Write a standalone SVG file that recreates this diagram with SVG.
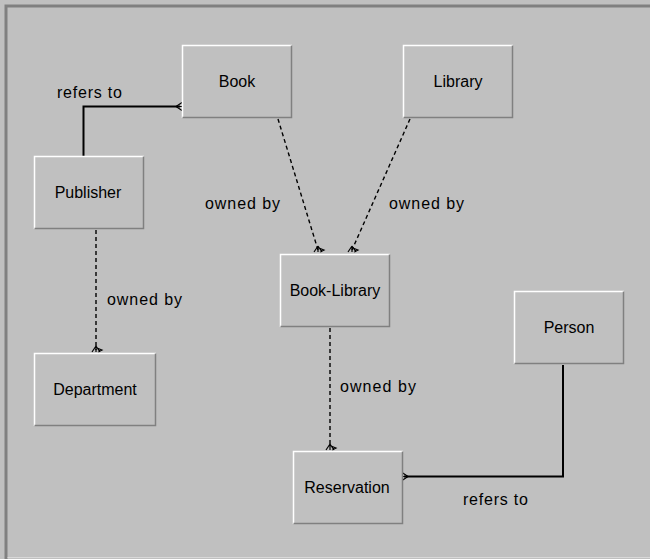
<svg xmlns="http://www.w3.org/2000/svg" width="650" height="559" viewBox="0 0 650 559">
<style>
.bg{fill:#c0c0c0}
.box{fill:#c0c0c0}
.hi{fill:none;stroke:#ffffff;stroke-width:1.5}
.sh{fill:none;stroke:#808080;stroke-width:1.5}
.t{font-family:"Liberation Sans",Arial,sans-serif;font-size:16px;fill:#000;text-anchor:middle}
.lbl{font-family:"Liberation Sans",Arial,sans-serif;font-size:16px;fill:#000}
.solid{fill:none;stroke:#000;stroke-width:2}
.dash{fill:none;stroke:#000;stroke-width:1.4;stroke-dasharray:4 3}
.foot{fill:none;stroke:#000;stroke-width:1.2}
</style>
<rect class="bg" x="0" y="0" width="650" height="559"/>
<path d="M6 559 V6 H650" fill="none" stroke="#808080" stroke-width="3"/>
<path d="M7.5 557.5 H650" fill="none" stroke="#d8d8d8" stroke-width="1"/>

<g id="connectors">
  <path class="solid" d="M83.5 156 V106.5 H180"/>
  <path class="foot" d="M176 106.5 L182 102.5 M176 106.5 L182 106.5 M176 106.5 L182 110.5"/>
  <text class="lbl" x="57" y="98" textLength="65" lengthAdjust="spacing">refers to</text>

  <path class="dash" d="M278 119 L318 250"/>
  <path class="foot" d="M318 246 L314 252 M318 246 L318 252 M318 246 L322 252 M319 248 L324 250 L320 252"/>
  <text class="lbl" x="205" y="209" textLength="75" lengthAdjust="spacing">owned by</text>

  <path class="dash" d="M410 119 L352 250"/>
  <path class="foot" d="M352 246 L348 252 M352 246 L352 252 M352 246 L356 252 M353 248 L358 250 L354 252"/>
  <text class="lbl" x="389" y="209" textLength="75" lengthAdjust="spacing">owned by</text>

  <path class="dash" d="M96 230 V350"/>
  <path class="foot" d="M96 346 L92 352 M96 346 L96 352 M96 346 L100 352 M97 348 L102 350 L98 352"/>
  <text class="lbl" x="107" y="305" textLength="75" lengthAdjust="spacing">owned by</text>

  <path class="dash" d="M330 328 V447"/>
  <path class="foot" d="M330 444 L326 450 M330 444 L330 450 M330 444 L334 450 M331 446 L336 448 L332 450"/>
  <text class="lbl" x="340" y="392" textLength="76" lengthAdjust="spacing">owned by</text>

  <path class="solid" d="M563 365 V476.5 H404"/>
  <path class="foot" d="M408 476.5 L402 472.5 M408 476.5 L402 476.5 M408 476.5 L402 480.5"/>
  <text class="lbl" x="463" y="505" textLength="65" lengthAdjust="spacing">refers to</text>
</g>

<g id="book">
  <rect class="box" x="182" y="45" width="110" height="73"/>
  <path class="hi" d="M182.5 118 V45.5 H292"/>
  <path class="sh" d="M182.5 117.5 H291.5 V45.5"/>
  <text class="t" x="237" y="87">Book</text>
</g>
<g id="library">
  <rect class="box" x="403" y="45" width="110" height="73"/>
  <path class="hi" d="M403.5 118 V45.5 H513"/>
  <path class="sh" d="M403.5 117.5 H512.5 V45.5"/>
  <text class="t" x="458" y="87">Library</text>
</g>
<g id="publisher">
  <rect class="box" x="34" y="156" width="110" height="73"/>
  <path class="hi" d="M34.5 229 V156.5 H144"/>
  <path class="sh" d="M34.5 228.5 H143.5 V156.5"/>
  <text class="t" x="88" y="198">Publisher</text>
</g>
<g id="book-library">
  <rect class="box" x="280" y="254" width="110" height="73"/>
  <path class="hi" d="M280.5 327 V254.5 H390"/>
  <path class="sh" d="M280.5 326.5 H389.5 V254.5"/>
  <text class="t" x="335" y="296">Book-Library</text>
</g>
<g id="department">
  <rect class="box" x="34" y="353" width="122" height="73"/>
  <path class="hi" d="M34.5 426 V353.5 H156"/>
  <path class="sh" d="M34.5 425.5 H155.5 V353.5"/>
  <text class="t" x="95" y="395">Department</text>
</g>
<g id="person">
  <rect class="box" x="514" y="291" width="110" height="73"/>
  <path class="hi" d="M514.5 364 V291.5 H624"/>
  <path class="sh" d="M514.5 363.5 H623.5 V291.5"/>
  <text class="t" x="569" y="333">Person</text>
</g>
<g id="reservation">
  <rect class="box" x="293" y="451" width="110" height="73"/>
  <path class="hi" d="M293.5 524 V451.5 H403"/>
  <path class="sh" d="M293.5 523.5 H402.5 V451.5"/>
  <text class="t" x="347" y="493">Reservation</text>
</g>
</svg>
